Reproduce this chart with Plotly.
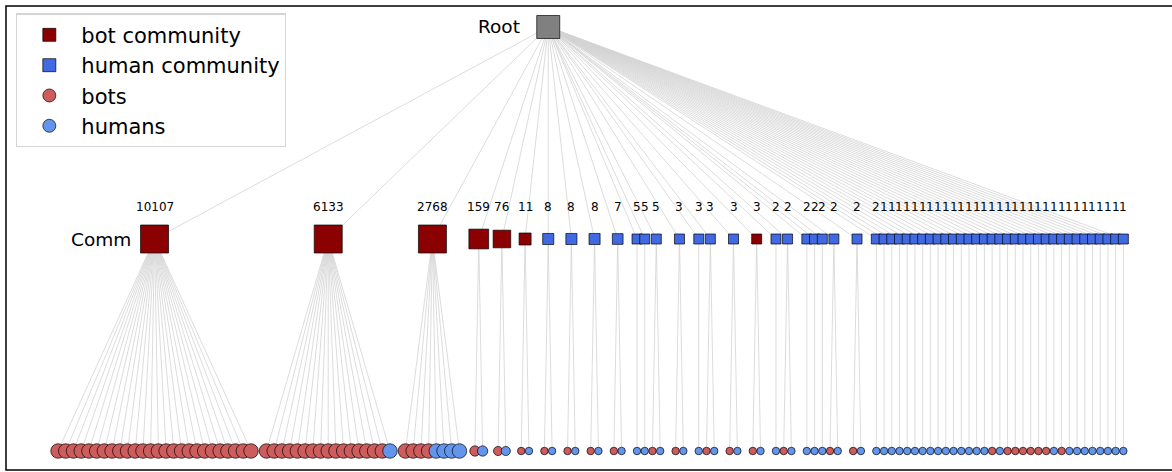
import numpy as np
import plotly.graph_objects as go

# ---- data -------------------------------------------------------------
# community sizes (members), in display order
comm_sizes = [10107, 6133, 2768, 159, 76, 11, 8, 8, 8, 7, 5, 5, 5,
              3, 3, 3, 3, 3, 2, 2, 2, 2, 2, 2, 2, 2] + [1] * 32
# 1 = community labelled as bot community, 0 = human community
comm_is_bot = [1, 1, 1, 1, 1, 1, 0, 0, 0, 0, 0, 0, 0,
               0, 0, 0, 0, 1, 0, 0, 0, 0, 0, 0, 0, 0] + [0] * 32
# sampled accounts drawn under each community (bots first, then humans)
single_bots = [0] * 14 + [1, 0, 1, 1, 1, 1, 1, 1, 0, 1] + [0] * 8
sample_bots = [26, 16, 4, 1, 1, 1, 1, 1, 1, 1, 0, 0, 1,
               1, 0, 1, 1, 1, 0, 1, 0, 0, 0, 1, 1, 0] + single_bots
sample_humans = [0, 1, 4, 1, 1, 1, 1, 1, 1, 1, 1, 1, 1,
                 1, 1, 1, 1, 1, 1, 1, 1, 1, 1, 1, 1, 1] + [1 - b for b in single_bots]

# ---- colours / styles -------------------------------------------------
C_BOT_COMM = "#8B0000"
C_HUM_COMM = "#4169E1"
C_BOT = "#CD5C5C"
C_HUM = "#6495ED"
C_ROOT = "#808080"
C_EDGE = "#d3d3d3"
EDGE_LINE = dict(color="rgba(0,0,0,0.85)", width=0.8)
FONT = "DejaVu Sans"

Y_ROOT, Y_COMM, Y_LEAF = 2, 1, 0

# ---- layout of the tree -----------------------------------------------
comm_x, comm_px = [], []
bot_x, bot_s, hum_x, hum_s = [], [], [], []
leaf_edges_x, leaf_edges_y = [], []
cursor = 0
for size, nb, nh in zip(comm_sizes, sample_bots, sample_humans):
    n = nb + nh
    slots = list(range(cursor, cursor + n))
    cx = float(np.mean(slots))
    sq = float(np.clip(5.05 + 2.9 * np.log(size), 10, 28))
    lf = float(np.clip(0.52 * sq, 7.5, 14.5))
    comm_x.append(cx)
    comm_px.append(sq)
    for i, s in enumerate(slots):
        if i < nb:
            bot_x.append(s); bot_s.append(lf)
        else:
            hum_x.append(s); hum_s.append(lf)
        leaf_edges_x += [cx, s, None]
        leaf_edges_y += [Y_COMM, Y_LEAF, None]
    cursor += n + (1 if n > 1 else 0)

# root sits above the first community with fewer than ten members
root_x = next(x for x, s in zip(comm_x, comm_sizes) if s < 10)

root_edges_x, root_edges_y = [], []
for cx in comm_x:
    root_edges_x += [root_x, cx, None]
    root_edges_y += [Y_ROOT, Y_COMM, None]

fig = go.Figure()

fig.add_trace(go.Scatter(x=root_edges_x, y=root_edges_y, mode="lines",
                         line=dict(color=C_EDGE, width=0.8),
                         hoverinfo="skip", showlegend=False))
fig.add_trace(go.Scatter(x=leaf_edges_x, y=leaf_edges_y, mode="lines",
                         line=dict(color=C_EDGE, width=0.8),
                         hoverinfo="skip", showlegend=False))

# community squares
bot_ci = [i for i, b in enumerate(comm_is_bot) if b]
hum_ci = [i for i, b in enumerate(comm_is_bot) if not b]
for idx, col in ((bot_ci, C_BOT_COMM), (hum_ci, C_HUM_COMM)):
    fig.add_trace(go.Scatter(
        x=[comm_x[i] for i in idx], y=[Y_COMM] * len(idx), mode="markers",
        marker=dict(symbol="square", color=col, opacity=1,
                    size=[comm_px[i] for i in idx], line=EDGE_LINE),
        text=[str(comm_sizes[i]) for i in idx], hoverinfo="text",
        showlegend=False))

# sampled accounts
fig.add_trace(go.Scatter(x=bot_x, y=[Y_LEAF] * len(bot_x), mode="markers",
                         marker=dict(symbol="circle", color=C_BOT, size=bot_s,
                                     opacity=1, line=EDGE_LINE),
                         showlegend=False))
fig.add_trace(go.Scatter(x=hum_x, y=[Y_LEAF] * len(hum_x), mode="markers",
                         marker=dict(symbol="circle", color=C_HUM, size=hum_s,
                                     opacity=1, line=EDGE_LINE),
                         showlegend=False))

# root node
fig.add_trace(go.Scatter(x=[root_x], y=[Y_ROOT], mode="markers",
                         marker=dict(symbol="square", color=C_ROOT, size=23,
                                     opacity=1, line=EDGE_LINE),
                         showlegend=False))

# legend entries
for name, sym, col in (("bot community", "square", C_BOT_COMM),
                       ("human community", "square", C_HUM_COMM),
                       ("bots", "circle", C_BOT),
                       ("humans", "circle", C_HUM)):
    fig.add_trace(go.Scatter(x=[None], y=[None], mode="markers", name=name,
                             marker=dict(symbol=sym, color=col, size=13,
                                         opacity=1, line=EDGE_LINE)))

annotations = []
for cx, s in zip(comm_x, comm_sizes):
    annotations.append(dict(x=cx, y=Y_COMM, text=str(s), showarrow=False,
                            yshift=32, font=dict(size=12, color="black",
                                                 family=FONT)))
annotations.append(dict(x=comm_x[0], y=Y_COMM, text="Comm", showarrow=False,
                        xanchor="right", xshift=-22,
                        font=dict(size=18.5, color="black", family=FONT)))
annotations.append(dict(x=root_x, y=Y_ROOT, text="Root", showarrow=False,
                        xanchor="right", xshift=-26,
                        font=dict(size=18.5, color="black", family=FONT)))

fig.update_layout(
    width=1172, height=472,
    margin=dict(l=6, r=0, t=6, b=2),
    plot_bgcolor="white", paper_bgcolor="white",
    xaxis=dict(range=[-6.74, 144.3], visible=False, fixedrange=True),
    yaxis=dict(range=[-0.0896, 2.099], visible=False, fixedrange=True),
    annotations=annotations,
    shapes=[dict(type="rect", xref="paper", yref="paper", x0=0, x1=1.05,
                 y0=0, y1=1, line=dict(color="black", width=1.5),
                 layer="above")],
    legend=dict(x=0.0086, y=0.984, xanchor="left", yanchor="top",
                bgcolor="white", bordercolor="#d4d4d4", borderwidth=1.3,
                font=dict(size=21, family=FONT, color="black"),
                itemwidth=54),
    showlegend=True,
    font=dict(family=FONT),
)

fig.write_html("out.html")
